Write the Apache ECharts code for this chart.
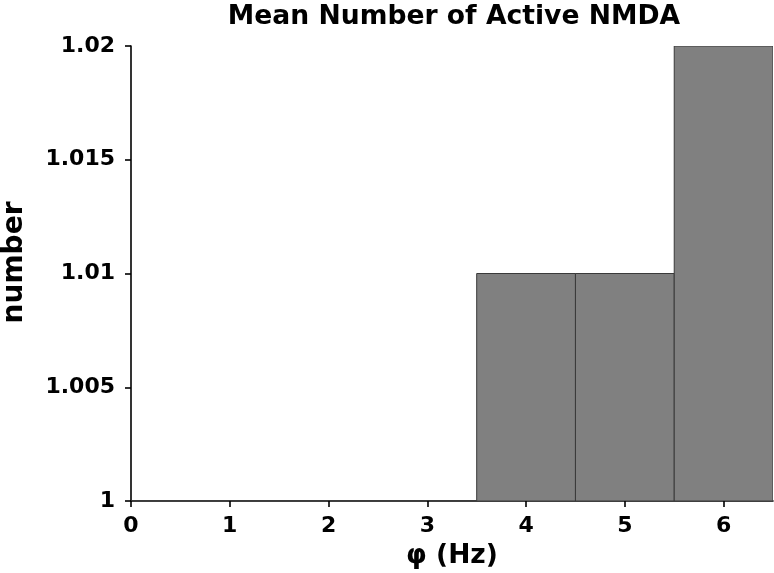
<!DOCTYPE html>
<html><head><meta charset="utf-8">
<script src="https://cdn.jsdelivr.net/npm/echarts@6/dist/echarts.min.js"></script>
<style>html,body{margin:0;padding:0;background:#fff}#c{width:774px;height:573px}</style>
</head><body><div id="c"></div>
<script>
const categories = [0, 1, 2, 3, 4, 5, 6];
const values = [1, 1, 1, 1, 1.01, 1.01, 1.02];
const xTicks = [0, 1, 2, 3, 4, 5, 6];
const yTicks = [1, 1.005, 1.01, 1.015, 1.02];

const font = 'DejaVu Sans';
const chart = echarts.init(document.getElementById('c'), null, {renderer: 'canvas'});
const data = categories.map((c, i) => [c, values[i]]);
chart.setOption({
  animation: false,
  title: {text: 'Mean Number of Active NMDA', left: 449, top: -1, textAlign: 'center',
    textStyle: {fontFamily: font, fontWeight: 'bold', fontSize: 26.6, color: '#000'}},
  grid: {left: 131, right: 1, top: 46, bottom: 72, containLabel: false, outerBoundsMode: 'none'},
  xAxis: {type: 'value', min: 0, max: 6.5, interval: 1,
    name: 'φ (Hz)', nameLocation: 'middle', nameGap: 42,
    nameTextStyle: {fontFamily: font, fontWeight: 'bold', fontSize: 26.5, color: '#000'},
    axisLine: {show: true, lineStyle: {color: '#000', width: 1.6}},
    axisTick: {show: true, length: 6, lineStyle: {color: '#000', width: 1.6}, customValues: xTicks},
    axisLabel: {fontFamily: font, fontWeight: 'bold', fontSize: 22, color: '#000', margin: 14, customValues: xTicks},
    splitLine: {show: false}},
  yAxis: {type: 'value', min: 1, max: 1.02, interval: 0.005,
    name: 'number', nameLocation: 'middle', nameGap: 102, nameRotate: 90,
    nameTextStyle: {fontFamily: font, fontWeight: 'bold', fontSize: 28, color: '#000', padding: [0, 0, 0, 22]},
    axisLine: {show: true, lineStyle: {color: '#000', width: 1.6}},
    axisTick: {show: true, length: 6, lineStyle: {color: '#000', width: 1.6}, customValues: yTicks},
    axisLabel: {fontFamily: font, fontWeight: 'bold', fontSize: 22, color: '#000', margin: 16, customValues: yTicks,
      formatter: v => String(+v.toFixed(3))},
    splitLine: {show: false}},
  series: [{
    type: 'custom', data: data, z: 1, clip: true,
    renderItem: function (params, api) {
      const x = api.value(0), y = api.value(1);
      const p0 = api.coord([x - 0.5, 1]);
      const p1 = api.coord([x + 0.5, y]);
      return {type: 'rect', shape: {x: p0[0], y: p1[1], width: p1[0] - p0[0], height: p0[1] - p1[1]},
        style: {fill: '#808080', stroke: '#3a3a3a', lineWidth: 1}};
    }
  }]
});
</script></body></html>
